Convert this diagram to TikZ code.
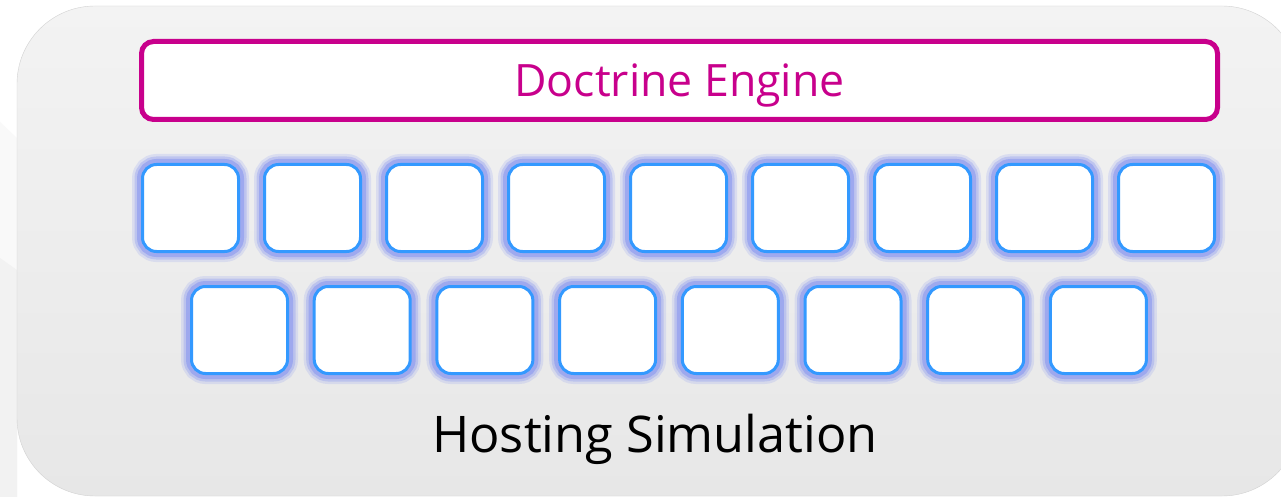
\documentclass[tikz,border=0pt]{standalone}
\usepackage{fontspec}
\setmainfont{Open Sans}
\definecolor{rimgray}{HTML}{D2D2D2}
\definecolor{paneltop}{HTML}{F3F3F3}
\definecolor{panelbot}{HTML}{E7E7E7}
\definecolor{enginemag}{HTML}{C8008C}
\definecolor{slotblue}{HTML}{3399FF}
\definecolor{slotglow}{HTML}{8A98F0}
\tikzset{
  engine/.style={draw=enginemag, line width=5pt, fill=white, rounded corners=12pt,
    minimum width=1076pt, minimum height=78pt, inner sep=0pt,
    text=enginemag, font=\fontsize{44.6}{50}\selectfont, text height=31.5pt, text depth=0pt},
  slot/.style={draw=slotblue, line width=3pt, fill=white, rounded corners=14pt,
    minimum width=96pt, minimum height=87pt, inner sep=0pt,
    preaction={draw=slotglow, line width=21pt, opacity=0.2},
    preaction={draw=slotglow, line width=16pt, opacity=0.35},
    preaction={draw=slotglow, line width=11pt, opacity=0.6}}
}
\begin{document}
\begin{tikzpicture}[x=1pt, y=-1pt]
        \useasboundingbox (0,0) rectangle (1281,497);
        \clip (0,0) rectangle (1281,497);
        \fill[white] (0,0) rectangle (1281,497);

        % Faint backdrop at the left edge
        \fill[gray!5] (0,122) -- (17,138) -- (17,497) -- (0,497) -- cycle;
        \fill[gray!10] (0,258) -- (17,270) -- (17,497) -- (0,497) -- cycle;

        % Outer panel, runs past the right edge
        \draw[draw=rimgray, top color=paneltop, bottom color=panelbot, rounded corners=78pt]
          (17,6) rectangle (1300,496);

        % Engine bar on top
        \node[engine] (engine) at (679.5,80.5) {Doctrine Engine};

        % Two rows of slots
        \foreach \i in {0,...,8}
          \node[slot] (top\i) at ({190.5+122*\i},208) {};
        \foreach \i in {0,...,7}
          \node[slot] (bot\i) at ({239.5+122.7*\i},330) {};

        % Caption
        \node[anchor=base, inner sep=0pt, font=\fontsize{50.5}{56}\selectfont] (host) at (655,452) {Hosting Simulation};
    \end{tikzpicture}
\end{document}
